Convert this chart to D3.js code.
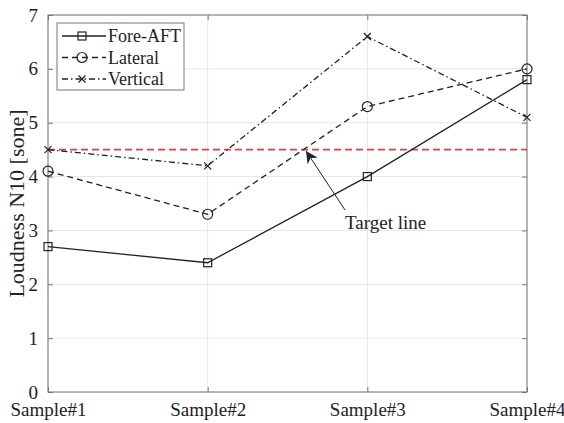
<!DOCTYPE html>
<html><head><meta charset="utf-8">
<script src="https://cdn.jsdelivr.net/npm/d3@7"></script>
<style>body{margin:0;background:#fff}svg{display:block}</style>
</head><body>
<script>
const categories = ["Sample#1","Sample#2","Sample#3","Sample#4"];
const foreAft = [2.7, 2.4, 4.0, 5.8];
const lateral = [4.1, 3.3, 5.3, 6.0];
const vertical = [4.5, 4.2, 6.6, 5.1];
const target = 4.5;
const yTicks = [0,1,2,3,4,5,6,7];
const seriesNames = ["Fore-AFT","Lateral","Vertical"];

const W=564,H=423;
const m={l:48,r:37,t:15,b:31};
const svg=d3.select("body").append("svg").attr("width",W).attr("height",H);
const font="'Liberation Serif','Times New Roman',serif";
const x=d3.scalePoint().domain(categories).range([m.l,W-m.r]);
const y=d3.scaleLinear().domain([0,7]).range([H-m.b,m.t]);
const x0=m.l,x1=W-m.r,y0=H-m.b,y1=m.t;

// grid
const g=svg.append("g");
g.selectAll(".gy").data(yTicks).join("line").attr("x1",x0).attr("x2",x1)
 .attr("y1",d=>y(d)).attr("y2",d=>y(d)).attr("stroke","#e6e6e6").attr("stroke-width",1);
g.selectAll(".gx").data(categories).join("line").attr("y1",y0).attr("y2",y1)
 .attr("x1",d=>x(d)).attr("x2",d=>x(d)).attr("stroke","#e6e6e6").attr("stroke-width",1);

// axes
const ax=d3.axisBottom(x).tickSize(-5).tickPadding(14);
const ay=d3.axisLeft(y).tickValues(yTicks).tickFormat(d3.format("d")).tickSize(-5).tickPadding(10);
const gx=svg.append("g").attr("transform",`translate(0,${y0})`).call(ax);
const gy=svg.append("g").attr("transform",`translate(${x0},0)`).call(ay);
const gx2=svg.append("g").attr("transform",`translate(0,${y1})`).call(d3.axisTop(x).tickSize(-5).tickFormat(""));
const gy2=svg.append("g").attr("transform",`translate(${x1},0)`).call(d3.axisRight(y).tickValues(yTicks).tickSize(-5).tickFormat(""));
[gx,gy,gx2,gy2].forEach(a=>{a.select(".domain").remove();a.selectAll("line").attr("stroke","#777");
 a.attr("font-family",null).attr("font-size",null);
 a.selectAll("text").style("font-family",font).style("font-size","19px").attr("fill","#222");});
gx.selectAll("text").attr("dy","0.5em");
svg.append("rect").attr("x",x0).attr("y",y1).attr("width",x1-x0).attr("height",y0-y1)
 .attr("fill","none").attr("stroke","#777").attr("stroke-width",1);

svg.append("text").attr("transform",`translate(16,${(y0+y1)/2}) rotate(-90)`)
 .attr("text-anchor","middle").attr("dy","0.35em").style("font-family",font).style("font-size","22px").attr("fill","#222")
 .text("Loudness N10 [sone]");

// target
svg.append("line").attr("x1",x0).attr("x2",x1).attr("y1",y(target)).attr("y2",y(target))
 .attr("stroke","#e8413a").attr("stroke-width",1.6).attr("stroke-dasharray","7,4");

const line=d3.line().x((d,i)=>x(categories[i])).y(d=>y(d));
const styles=[{d:foreAft,dash:null,mk:"sq"},{d:lateral,dash:"6,4",mk:"ci"},{d:vertical,dash:"6,3,1.5,3",mk:"x"}];
function marker(sel,type,cx,cy){
 if(type==="sq") sel.append("rect").attr("x",cx-4).attr("y",cy-4).attr("width",8).attr("height",8).attr("fill","none").attr("stroke","#222").attr("stroke-width",1.2);
 else if(type==="ci") sel.append("circle").attr("cx",cx).attr("cy",cy).attr("r",5).attr("fill","none").attr("stroke","#222").attr("stroke-width",1.2);
 else sel.append("path").attr("d",`M${cx-3.5},${cy-3.5}L${cx+3.5},${cy+3.5}M${cx-3.5},${cy+3.5}L${cx+3.5},${cy-3.5}`).attr("stroke","#222").attr("stroke-width",1.2);
}
styles.forEach(s=>{
 svg.append("path").attr("d",line(s.d)).attr("fill","none").attr("stroke","#222").attr("stroke-width",1.3)
  .attr("stroke-dasharray",s.dash);
 s.d.forEach((v,i)=>marker(svg,s.mk,x(categories[i]),y(v)));
});

// annotation
svg.append("defs").append("marker").attr("id","ah").attr("viewBox","0 0 10 10").attr("refX",10).attr("refY",5)
 .attr("markerWidth",12).attr("markerHeight",12).attr("markerUnits","userSpaceOnUse").attr("orient","auto")
 .append("path").attr("d","M0,0L10,5L0,10L3,5Z").attr("fill","#222");
svg.append("line").attr("x1",345).attr("y1",210).attr("x2",306).attr("y2",151)
 .attr("stroke","#222").attr("stroke-width",1).attr("marker-end","url(#ah)");
svg.append("text").attr("x",345).attr("y",229).style("font-family",font).style("font-size","19px").attr("fill","#222").text("Target line");

// legend
const lg=svg.append("g");
lg.append("rect").attr("x",57).attr("y",23).attr("width",127).attr("height",67).attr("fill","#fff").attr("stroke","#777").attr("stroke-width",1);
styles.forEach((s,i)=>{
 const ly=36+i*21.5;
 lg.append("line").attr("x1",62).attr("x2",106).attr("y1",ly).attr("y2",ly).attr("stroke","#222").attr("stroke-width",1.3).attr("stroke-dasharray",s.dash);
 marker(lg,s.mk,82,ly);
 lg.append("text").attr("x",108).attr("y",ly).attr("dy","0.35em").style("font-family",font).style("font-size","18px").attr("fill","#222").text(seriesNames[i]);
});
</script>
</body></html>
